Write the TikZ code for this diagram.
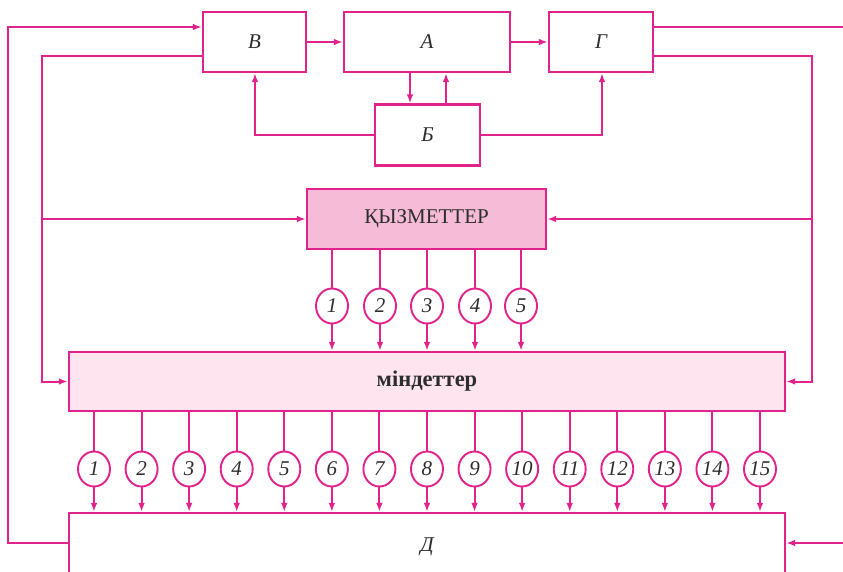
\documentclass[tikz,border=0pt]{standalone}
\usepackage{fontspec}
\setmainfont{Liberation Serif}
\usetikzlibrary{arrows.meta,shapes.geometric}
\definecolor{mag}{RGB}{224,34,138}
\definecolor{kfill}{RGB}{246,188,215}
\definecolor{mfill}{RGB}{253,228,239}
\definecolor{txt}{RGB}{45,45,45}
\begin{document}
\begin{tikzpicture}[x=1pt,y=-1pt,
  box/.style={draw=mag, line width=2.1pt, rectangle, inner sep=0pt, text=txt,
    font=\fontsize{21}{21}\selectfont\itshape},
  num/.style={draw=mag, line width=1.9pt, ellipse, minimum width=32pt, minimum height=35pt,
    inner sep=0pt, fill=white, text=txt, font=\fontsize{21}{21}\selectfont\itshape},
  conn/.style={draw=mag, line width=2pt},
  arr/.style={conn, -{Latex[length=9pt,width=6.5pt]}}]
\useasboundingbox (0,0) rectangle (843,571);
\clip (0,0) rectangle (843,571);
\fill[white] (0,0) rectangle (843,571);
% boxes
\node[box, minimum width=103pt, minimum height=60pt] (B) at (254.5,42) {В};
\node[box, minimum width=166pt, minimum height=60pt] (A) at (427,42) {А};
\node[box, minimum width=104pt, minimum height=60pt] (G) at (601,42) {Г};
\node[box, minimum width=105pt, minimum height=61pt] (Bb) at (427.5,135) {Б};
\node[box, fill=kfill, minimum width=239pt, minimum height=60pt,
  font=\fontsize{21}{21}\selectfont] (K) at (426.5,219) {ҚЫЗМЕТТЕР};
\node[box, fill=mfill, minimum width=716pt, minimum height=59pt,
  font=\fontsize{22.5}{22.5}\selectfont\bfseries] (M) at (427,381.5) {міндеттер};
\node[box, minimum width=716pt, minimum height=90pt] (D) at (427,558) {};
\node[text=txt, font=\fontsize{21}{21}\selectfont\itshape] (Dl) at (427,547) {Д};
% coordinates
\coordinate (lo1) at (8,543); \coordinate (lo2) at (8,27);
\coordinate (li1) at (42,56); \coordinate (li3) at (42,219);
\coordinate (ro1) at (870,27); \coordinate (ro2) at (870,543);
\coordinate (ri1) at (812,56); \coordinate (ri3) at (812,219);
\coordinate (ab1) at (410,0); \coordinate (ab2) at (446,0);
\coordinate (bl) at (255,0); \coordinate (gr) at (602,0);
% connectors
\draw[arr] (D.west |- lo1) -- (lo1) -- (lo2) -- (B.west |- lo2);
\draw[arr] (B.west |- li1) -- (li1) |- (M.west);
\draw[arr] (li3) -- (K.west);
\draw[arr] (B.east) -- (A.west);
\draw[arr] (A.east) -- (G.west);
\draw[arr] (G.east |- ro1) -- (ro1) -- (ro2) -- (D.east |- ro2);
\draw[arr] (G.east |- ri1) -- (ri1) |- (M.east);
\draw[arr] (ri3) -- (K.east);
\draw[arr] (A.south -| ab1) -- (Bb.north -| ab1);
\draw[arr] (Bb.north -| ab2) -- (A.south -| ab2);
\draw[arr] (Bb.west) -| (B.south -| bl);
\draw[arr] (Bb.east) -| (G.south -| gr);
% top circles
\foreach \i/\x in {1/332,2/380,3/427,4/475,5/521} {
  \node[num] (t\i) at (\x,306) {\i};
  \draw[conn] (K.south -| t\i) -- (t\i.north);
  \draw[arr] (t\i.south) -- (M.north -| t\i);
}
% bottom circles
\foreach \i in {1,...,15} {
  \pgfmathsetmacro\xx{94+47.57*(\i-1)}
  \node[num] (b\i) at (\xx,469) {\i};
  \draw[conn] (M.south -| b\i) -- (b\i.north);
  \draw[arr] (b\i.south) -- (D.north -| b\i);
}
\end{tikzpicture}
\end{document}
